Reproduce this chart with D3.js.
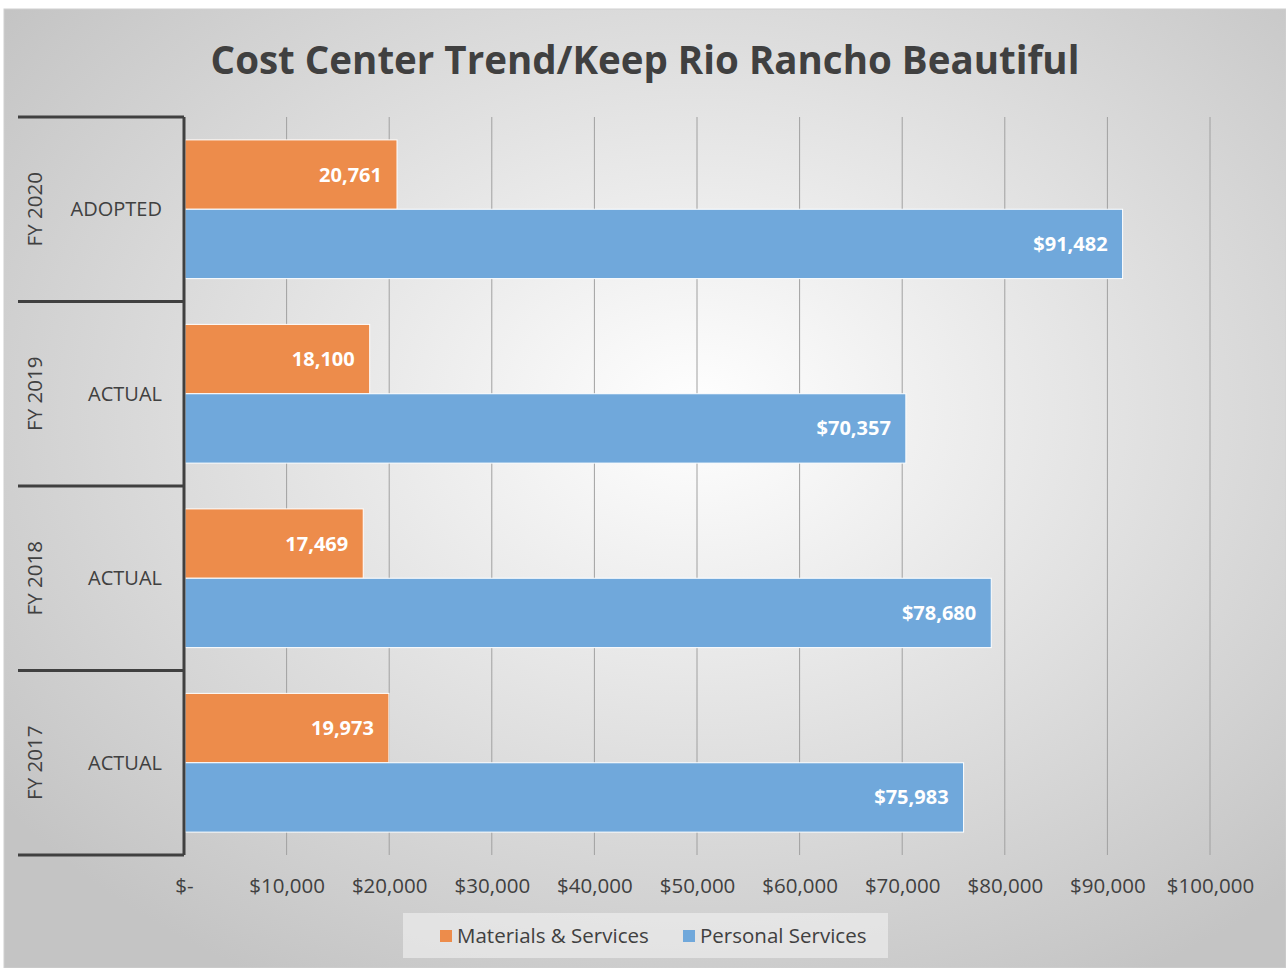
<!DOCTYPE html>
<html>
<head>
<meta charset="utf-8">
<script src="https://cdn.jsdelivr.net/npm/d3@7"></script>
<style>
  body { margin: 0; background: #fff; }
  svg { display: block; font-family: "Open Sans", "Noto Sans", sans-serif; }
</style>
</head>
<body>
<div id="chart"></div>
<script>
const years = ["FY 2020", "FY 2019", "FY 2018", "FY 2017"];
const statuses = ["ADOPTED", "ACTUAL", "ACTUAL", "ACTUAL"];
const series = ["Materials & Services", "Personal Services"];
const materials = [20761, 18100, 17469, 19973];
const personal = [91482, 70357, 78680, 75983];
const xTicks = [0, 10000, 20000, 30000, 40000, 50000, 60000, 70000, 80000, 90000, 100000];

const width = 1286;
const height = 968;
const margin = { top: 117, right: 76, bottom: 113, left: 184 };
const colors = { "Materials & Services": "#ED8C4B", "Personal Services": "#70A8DB" };

const svg = d3.select("#chart")
  .append("svg")
  .attr("width", width)
  .attr("height", height);

// background gradient like the office chart area
const defs = svg.append("defs");
const grad = defs.append("radialGradient")
  .attr("id", "bg")
  .attr("cx", "54%").attr("cy", "42%").attr("r", "68%");
grad.append("stop").attr("offset", "0%").attr("stop-color", "#ffffff");
grad.append("stop").attr("offset", "100%").attr("stop-color", "#c4c4c4");

svg.append("rect")
  .attr("x", 4).attr("y", 9)
  .attr("width", width - 4).attr("height", height - 9)
  .attr("fill", "url(#bg)")
  .attr("stroke", "#d0d0d0");

svg.append("text")
  .attr("x", 645)
  .attr("y", 74)
  .attr("text-anchor", "middle")
  .attr("font-size", "38.5px")
  .attr("font-weight", "bold")
  .attr("fill", "#404040")
  .text("Cost Center Trend/Keep Rio Rancho Beautiful");

const data = years.map((y, i) => ({
  year: y,
  status: statuses[i],
  values: [
    { key: series[0], value: materials[i] },
    { key: series[1], value: personal[i] }
  ]
}));

const x = d3.scaleLinear()
  .domain([0, 100000])
  .range([margin.left, width - margin.right]);

const y = d3.scaleBand()
  .domain(years)
  .range([margin.top, height - margin.bottom]);

const ySub = d3.scaleBand()
  .domain(series)
  .range([0, y.bandwidth()])
  .paddingOuter(0.33);

// gridlines
svg.append("g")
  .selectAll("line")
  .data(xTicks.slice(1))
  .enter()
  .append("line")
    .attr("x1", d => x(d)).attr("x2", d => x(d))
    .attr("y1", margin.top).attr("y2", height - margin.bottom)
    .attr("stroke", "#a0a0a0")
    .attr("stroke-width", 1);

// x axis labels
const xAxis = svg.append("g")
  .attr("transform", `translate(0,${height - margin.bottom})`)
  .call(d3.axisBottom(x)
    .tickValues(xTicks)
    .tickSize(0)
    .tickPadding(23)
    .tickFormat(d => d === 0 ? "$-" : "$" + d3.format(",")(d)));
xAxis.select(".domain").remove();
xAxis.selectAll("text")
  .attr("font-size", "20.5px")
  .attr("fill", "#404040")
  .attr("font-family", "'Open Sans', sans-serif");

// bars
const groups = svg.selectAll(".group")
  .data(data)
  .enter()
  .append("g")
    .attr("class", "group")
    .attr("transform", d => `translate(0,${y(d.year)})`);

groups.selectAll("rect")
  .data(d => d.values)
  .enter()
  .append("rect")
    .attr("x", x(0) + 1)
    .attr("y", d => ySub(d.key))
    .attr("width", d => x(d.value) - x(0) - 1)
    .attr("height", ySub.bandwidth())
    .attr("fill", d => colors[d.key])
    .attr("stroke", "#ffffff")
    .attr("stroke-width", 1);

groups.selectAll(".lbl")
  .data(d => d.values)
  .enter()
  .append("text")
    .attr("class", "lbl")
    .attr("x", d => x(d.value) - 15)
    .attr("y", d => ySub(d.key) + ySub.bandwidth() / 2)
    .attr("dy", "0.35em")
    .attr("text-anchor", "end")
    .attr("font-size", "20px")
    .attr("font-weight", "bold")
    .attr("fill", "#ffffff")
    .text(d => (d.key === "Personal Services" ? "$" : "") + d3.format(",")(d.value));

// two-level category axis on the left
const axisColor = "#404040";
svg.append("line")
  .attr("x1", margin.left).attr("x2", margin.left)
  .attr("y1", margin.top).attr("y2", height - margin.bottom)
  .attr("stroke", axisColor).attr("stroke-width", 3);

const bounds = years.map(d => y(d)).concat([height - margin.bottom]);
svg.append("g")
  .selectAll("line")
  .data(bounds)
  .enter()
  .append("line")
    .attr("x1", 18).attr("x2", margin.left)
    .attr("y1", d => d).attr("y2", d => d)
    .attr("stroke", axisColor).attr("stroke-width", 3);

svg.selectAll(".status")
  .data(data)
  .enter()
  .append("text")
    .attr("class", "status")
    .attr("x", 162)
    .attr("y", d => y(d.year) + y.bandwidth() / 2)
    .attr("dy", "0.35em")
    .attr("text-anchor", "end")
    .attr("font-size", "20px")
    .attr("fill", "#404040")
    .text(d => d.status);

svg.selectAll(".year")
  .data(data)
  .enter()
  .append("text")
    .attr("class", "year")
    .attr("transform", d => `translate(35,${y(d.year) + y.bandwidth() / 2}) rotate(-90)`)
    .attr("dy", "0.35em")
    .attr("text-anchor", "middle")
    .attr("font-size", "20.5px")
    .attr("fill", "#404040")
    .text(d => d.year);

// legend
const legend = svg.append("g");
legend.append("rect")
  .attr("x", 403).attr("y", 913)
  .attr("width", 485).attr("height", 45)
  .attr("fill", "#f2f2f2")
  .attr("fill-opacity", 0.6);

const legendX = [440, 683];
const items = legend.selectAll(".item")
  .data(series)
  .enter()
  .append("g")
    .attr("class", "item")
    .attr("transform", (d, i) => `translate(${legendX[i]},930)`);
items.append("rect")
  .attr("width", 12).attr("height", 12)
  .attr("fill", d => colors[d]);
items.append("text")
  .attr("x", 17)
  .attr("y", 6)
  .attr("dy", "0.35em")
  .attr("font-size", "20.5px")
  .attr("fill", "#404040")
  .text(d => d);
</script>
</body>
</html>
